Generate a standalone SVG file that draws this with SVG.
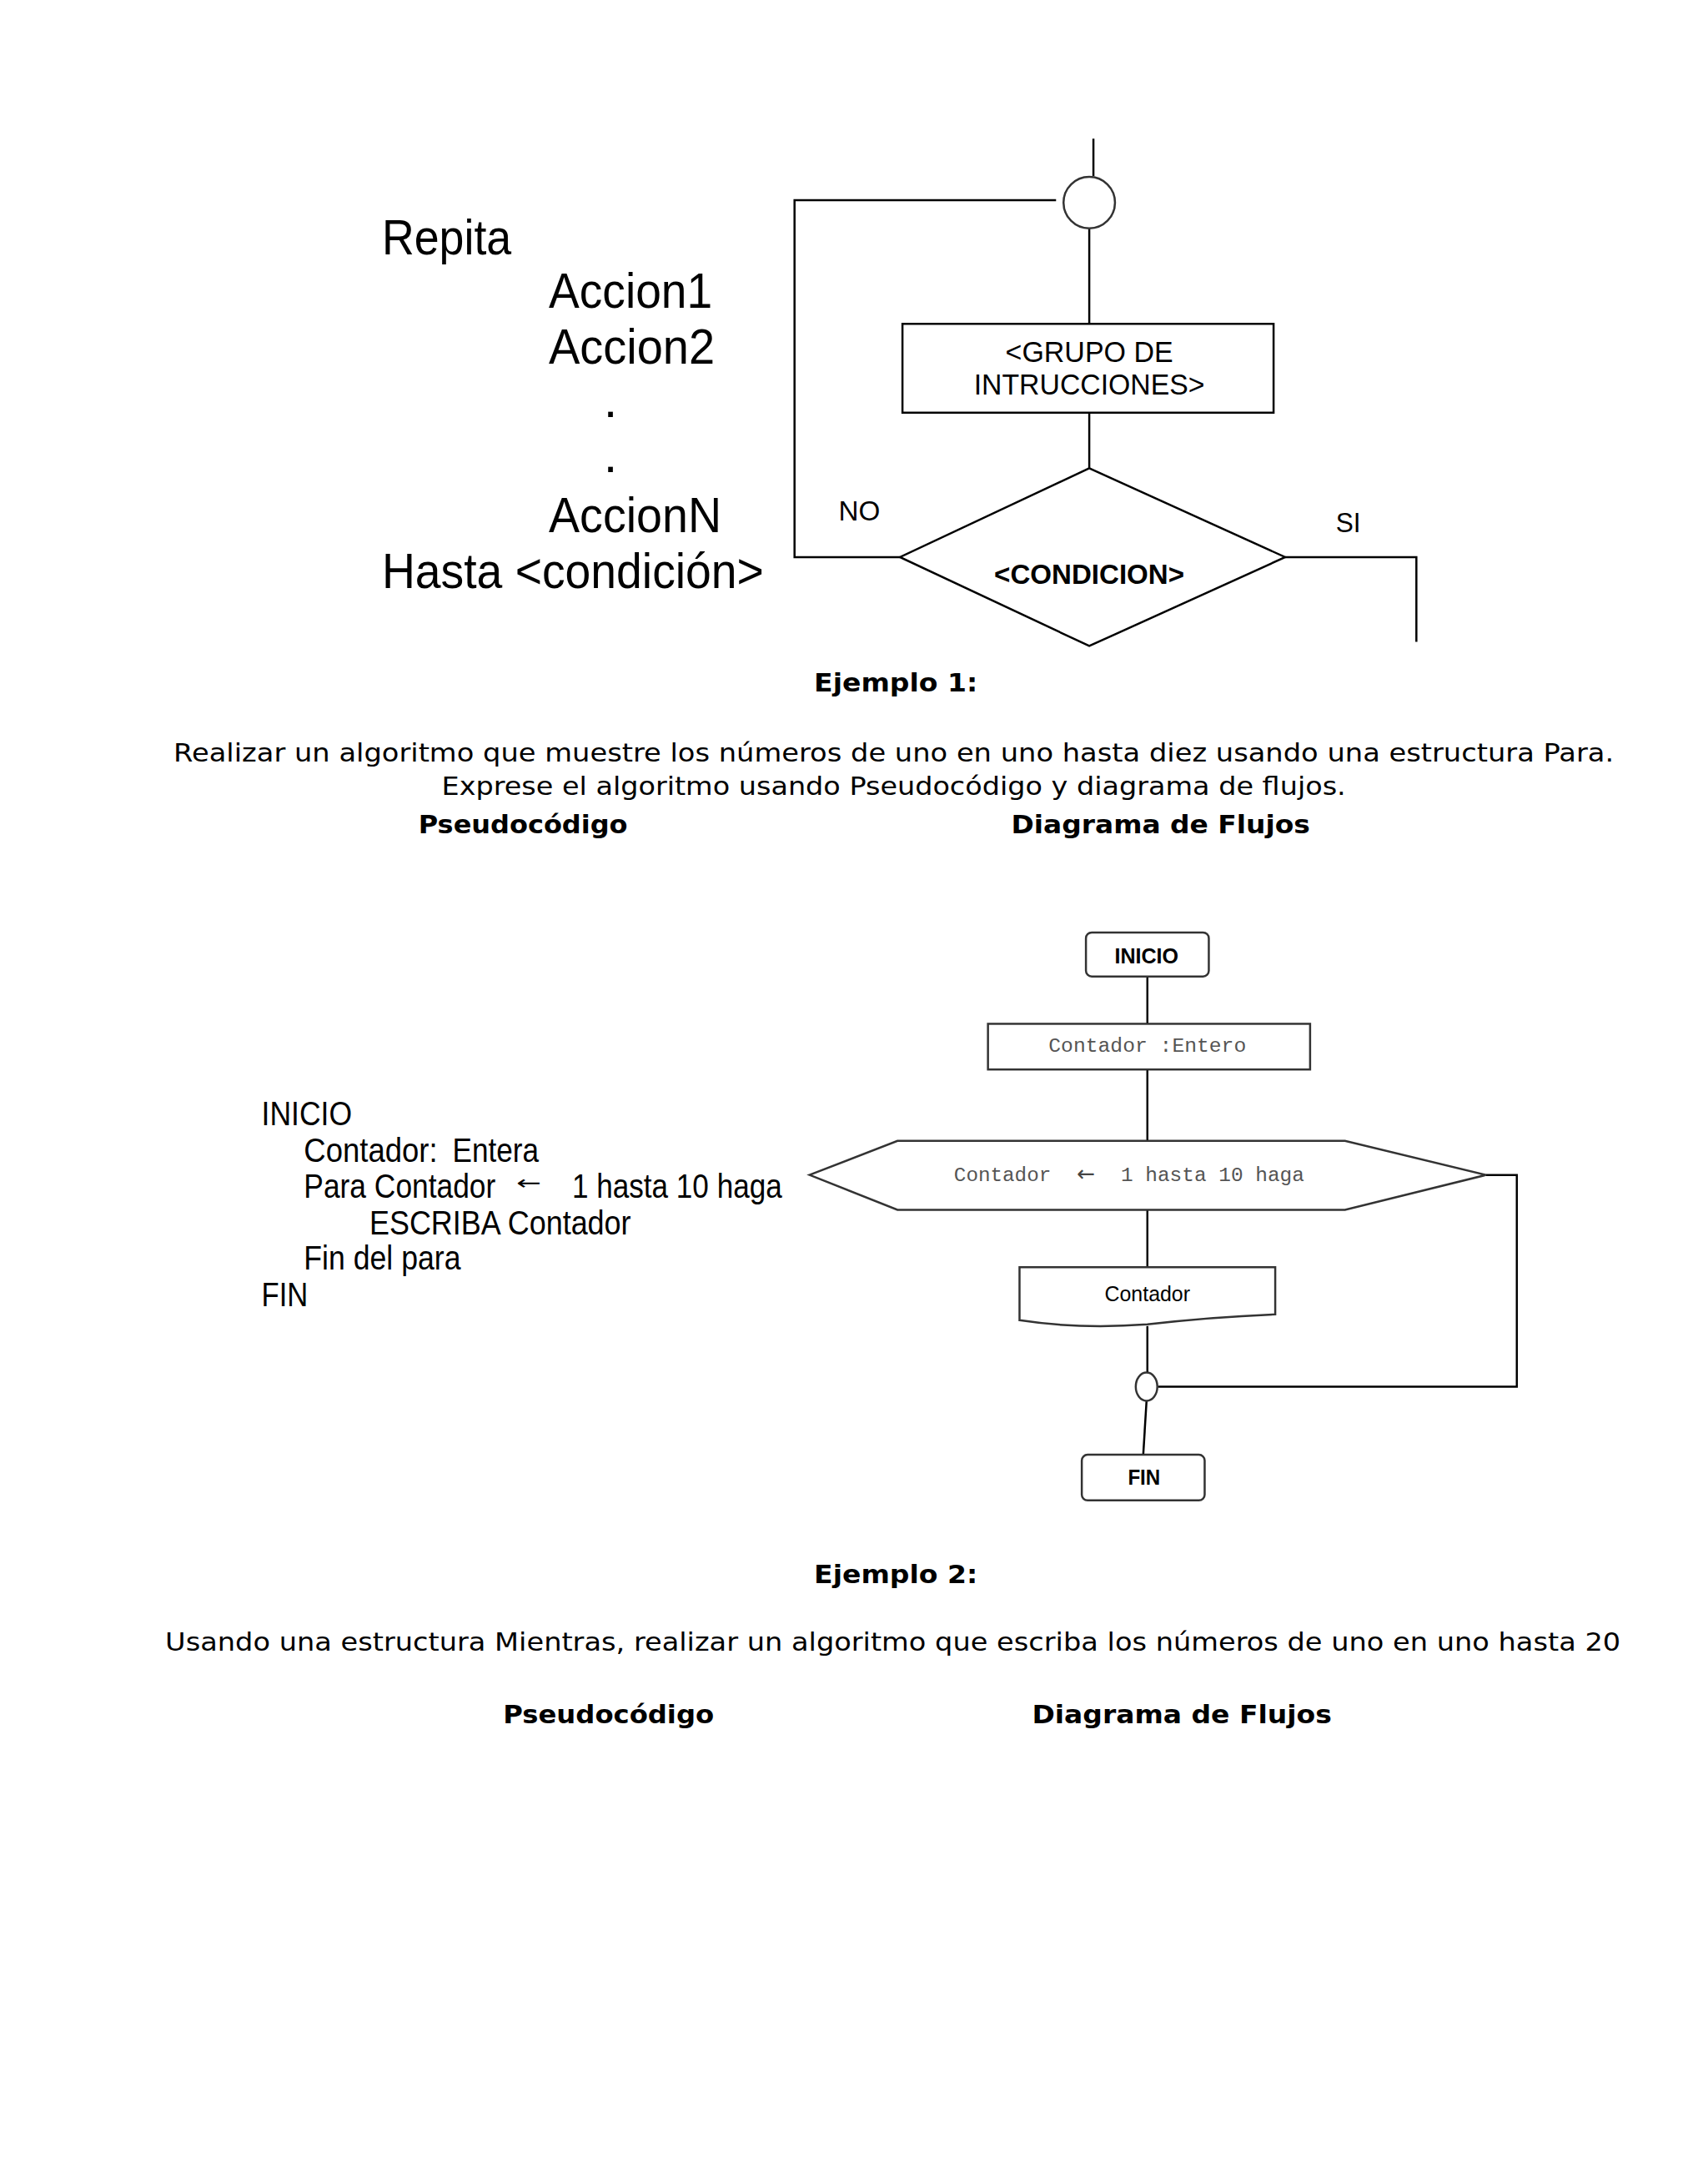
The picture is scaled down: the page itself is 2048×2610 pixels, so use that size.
<svg xmlns="http://www.w3.org/2000/svg" width="2048" height="2610" viewBox="0 0 2048 2610">
<style>
.ln{fill:none;stroke:#000;stroke-width:2.5}
.sh{fill:#fff;stroke:#000;stroke-width:2.5}
.sh2{fill:#fff;stroke:#333;stroke-width:2.5}
.ar{font-family:"Liberation Sans",Arial,sans-serif;fill:#000}
.vd{font-family:"DejaVu Sans",Verdana,sans-serif;fill:#000}
.mo{font-family:"Liberation Mono","Courier New",monospace;fill:#555}
.arw{font-family:"DejaVu Sans",sans-serif}
</style>
<rect width="2048" height="2610" fill="#fff"/>
<g transform="scale(0.9955)">
<g id="pseudo1">
<text class="ar" x="460" y="306" font-size="60" textLength="156" lengthAdjust="spacingAndGlyphs">Repita</text>
<text class="ar" x="661" y="371" font-size="60" textLength="197" lengthAdjust="spacingAndGlyphs">Accion1</text>
<text class="ar" x="661" y="438" font-size="60" textLength="200" lengthAdjust="spacingAndGlyphs">Accion2</text>
<text class="ar" x="727" y="502" font-size="60">.</text>
<text class="ar" x="727" y="569" font-size="60">.</text>
<text class="ar" x="661" y="641" font-size="60" textLength="208" lengthAdjust="spacingAndGlyphs">AccionN</text>
<text class="ar" x="460" y="708" font-size="60" textLength="460" lengthAdjust="spacingAndGlyphs">Hasta &lt;condición&gt;</text>
</g>

<g id="connectors1">
<line class="ln" x1="1317" y1="167" x2="1317" y2="212"/>
<polyline class="ln" points="1272,241 957,241 957,671 1084,671"/>
<line class="ln" x1="1312" y1="276" x2="1312" y2="390"/>
<line class="ln" x1="1312" y1="497" x2="1312" y2="564"/>
<polyline class="ln" points="1548,671 1706,671 1706,773"/>
</g>
<g id="circle1"><circle class="sh2" cx="1312" cy="244" r="31"/></g>
<g id="grupo">
<rect class="sh" x="1087" y="390" width="447" height="107"/>
<text class="ar" x="1312" y="436" font-size="36" text-anchor="middle" textLength="202" lengthAdjust="spacingAndGlyphs">&lt;GRUPO DE</text>
<text class="ar" x="1312" y="475" font-size="36" text-anchor="middle" textLength="278" lengthAdjust="spacingAndGlyphs">INTRUCCIONES&gt;</text>
</g>
<g id="condicion">
<polygon class="sh" points="1312,564 1548,671 1312,778 1084,671"/>
<text class="ar" x="1312" y="703" font-size="33" text-anchor="middle" textLength="229" lengthAdjust="spacingAndGlyphs" font-weight="bold">&lt;CONDICION&gt;</text>
</g>
<text class="ar" x="1010" y="627" font-size="33" textLength="50" lengthAdjust="spacingAndGlyphs">NO</text>
<text class="ar" x="1609" y="641" font-size="33" textLength="30" lengthAdjust="spacingAndGlyphs">SI</text>

<g id="texto1">
<text class="vd" x="1079" y="833" font-size="31" font-weight="bold" text-anchor="middle" textLength="197" lengthAdjust="spacingAndGlyphs">Ejemplo 1:</text>
<text class="vd" x="209" y="917" font-size="31" textLength="1735" lengthAdjust="spacingAndGlyphs">Realizar un algoritmo que muestre los números de uno en uno hasta diez usando una estructura Para.</text>
<text class="vd" x="532" y="957" font-size="31" textLength="1089" lengthAdjust="spacingAndGlyphs">Exprese el algoritmo usando Pseudocódigo y diagrama de flujos.</text>
<text class="vd" x="504" y="1004" font-size="31" font-weight="bold" textLength="252" lengthAdjust="spacingAndGlyphs">Pseudocódigo</text>
<text class="vd" x="1218" y="1004" font-size="31" font-weight="bold" textLength="360" lengthAdjust="spacingAndGlyphs">Diagrama de Flujos</text>
</g>

<g id="pseudo2">
<text class="ar" x="315" y="1355" font-size="41" textLength="109" lengthAdjust="spacingAndGlyphs">INICIO</text>
<text class="ar" x="366" y="1399" font-size="41" textLength="161" lengthAdjust="spacingAndGlyphs">Contador:</text>
<text class="ar" x="545" y="1399" font-size="41" textLength="104" lengthAdjust="spacingAndGlyphs">Entera</text>
<text class="ar" x="366" y="1442" font-size="41" textLength="231" lengthAdjust="spacingAndGlyphs">Para Contador</text>
<text class="arw" x="622" y="1432" font-size="24" textLength="30" lengthAdjust="spacingAndGlyphs">←</text>
<text class="ar" x="689" y="1442" font-size="41" textLength="253" lengthAdjust="spacingAndGlyphs">1 hasta 10 haga</text>
<text class="ar" x="445" y="1487" font-size="41" textLength="315" lengthAdjust="spacingAndGlyphs">ESCRIBA Contador</text>
<text class="ar" x="366" y="1529" font-size="41" textLength="189" lengthAdjust="spacingAndGlyphs">Fin del para</text>
<text class="ar" x="315" y="1573" font-size="41" textLength="56" lengthAdjust="spacingAndGlyphs">FIN</text>
</g>

<g id="connectors2">
<line class="ln" x1="1382" y1="1176" x2="1382" y2="1233"/>
<line class="ln" x1="1382" y1="1288" x2="1382" y2="1374"/>
<line class="ln" x1="1382" y1="1457" x2="1382" y2="1526"/>
<polyline class="ln" points="1790,1415 1827,1415 1827,1670 1395,1670"/>
<line class="ln" x1="1382" y1="1597" x2="1382" y2="1653"/>
<line class="ln" x1="1381" y1="1687" x2="1377" y2="1752"/>
</g>
<g id="inicio">
<rect class="sh2" x="1308" y="1123" width="148" height="53" rx="7"/>
<text class="ar" x="1381" y="1160" font-size="25" font-weight="bold" text-anchor="middle" textLength="77" lengthAdjust="spacingAndGlyphs" fill="#222">INICIO</text>
</g>
<g id="declaracion">
<rect class="sh2" x="1190" y="1233" width="388" height="55"/>
<text class="mo" x="1382" y="1267" font-size="24" text-anchor="middle" textLength="238" lengthAdjust="spacingAndGlyphs">Contador :Entero</text>
</g>
<g id="para">
<polygon class="sh2" points="975,1415 1081,1374 1620,1374 1790,1415 1620,1457 1081,1457"/>
<text class="mo" x="1149" y="1422" font-size="24" textLength="117" lengthAdjust="spacingAndGlyphs">Contador</text>
<text class="arw" x="1297" y="1422" font-size="26" fill="#444" textLength="22" lengthAdjust="spacingAndGlyphs">←</text>
<text class="mo" x="1350" y="1422" font-size="24" textLength="221" lengthAdjust="spacingAndGlyphs">1 hasta 10 haga</text>
</g>
<g id="salida">
<path class="sh2" d="M1228,1526 L1536,1526 L1536,1583 Q1460,1586 1382,1595 Q1300,1601 1228,1590 Z"/>
<text class="ar" x="1382" y="1567" font-size="25" text-anchor="middle" textLength="103" lengthAdjust="spacingAndGlyphs" fill="#222">Contador</text>
</g>
<g id="union"><ellipse class="sh2" cx="1381" cy="1670" rx="13" ry="17"/></g>
<g id="fin">
<rect class="sh2" x="1303" y="1752" width="148" height="55" rx="7"/>
<text class="ar" x="1378" y="1788" font-size="25" font-weight="bold" text-anchor="middle" textLength="39" lengthAdjust="spacingAndGlyphs" fill="#222">FIN</text>
</g>

<g id="texto2">
<text class="vd" x="1079" y="1907" font-size="31" font-weight="bold" text-anchor="middle" textLength="197" lengthAdjust="spacingAndGlyphs">Ejemplo 2:</text>
<text class="vd" x="199" y="1988" font-size="31" textLength="1753" lengthAdjust="spacingAndGlyphs">Usando una estructura Mientras, realizar un algoritmo que escriba los números de uno en uno hasta 20</text>
<text class="vd" x="606" y="2075" font-size="31" font-weight="bold" textLength="254" lengthAdjust="spacingAndGlyphs">Pseudocódigo</text>
<text class="vd" x="1243" y="2075" font-size="31" font-weight="bold" textLength="361" lengthAdjust="spacingAndGlyphs">Diagrama de Flujos</text>
</g>
</g>
</svg>
